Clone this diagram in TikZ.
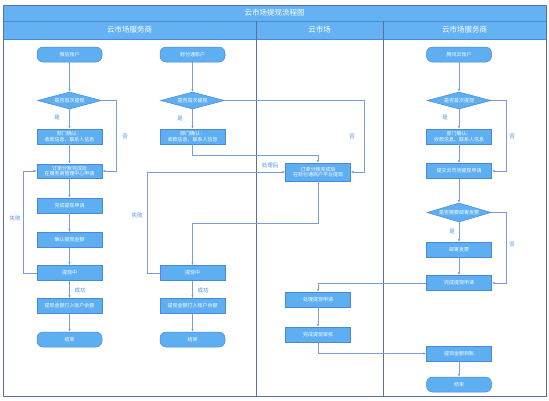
\documentclass[tikz,border=0pt]{standalone}
\usepackage{fontspec}
\setmainfont{Noto Sans CJK SC}
\usepackage{xcolor}
\usetikzlibrary{positioning,calc,shapes.geometric,arrows.meta}
\definecolor{flowLine}{HTML}{7B9CD6}
\definecolor{boxFill}{HTML}{5EAEF2}
\definecolor{boxLine}{HTML}{4A8AD4}
\definecolor{laneLine}{HTML}{5B6F9C}
\definecolor{headFill}{HTML}{64B2F4}
\definecolor{labelBlue}{HTML}{4A90E2}

\begin{document}
\begin{tikzpicture}[x=1pt,y=-1pt,
  procbox/.style={draw=boxLine, fill=boxFill, line width=0.5pt, text=white,
    font=\fontsize{5}{5.8}\selectfont, align=center, inner sep=1pt,
    minimum width=65pt, minimum height=15pt},
  startbox/.style={procbox, rounded corners=6pt},
  decision/.style={diamond, draw=boxLine, fill=boxFill, line width=0.5pt, text=white,
    font=\fontsize{5}{5.8}\selectfont, inner sep=0pt, aspect=3.7,
    minimum width=64pt, minimum height=17pt},
  flow/.style={draw=flowLine, line width=0.5pt, -{Latex[length=3pt,width=2.4pt]}},
  lbl/.style={font=\fontsize{5.5}{6}\selectfont, text=labelBlue, inner sep=1pt},
  headtxt/.style={font=\fontsize{7.5}{8}\selectfont, text=white}]

\useasboundingbox (0,0) rectangle (549,400);

\def\xA{69.5}   % left column
\def\xB{192.5}  % second column
\def\xM{318}    % cloud market lane
\def\xR{459}    % right lane

% --- FRAME, TITLE AND LANES ---
\fill[white] (3,5) rectangle (546,396);
\fill[headFill] (3,5) rectangle (546,39);
\draw[boxLine, line width=0.5pt] (3,21) -- (546,21);
\draw[boxLine, line width=0.5pt] (3,39) -- (546,39);
\draw[laneLine, line width=0.7pt] (256,21) -- (256,396);
\draw[laneLine, line width=0.7pt] (383,21) -- (383,396);
\draw[laneLine, line width=0.8pt] (3,5) rectangle (546,396);
\node[headtxt] (title) at (274.5,13) {云市场提现流程图};
\node[headtxt] (laneA) at (129.5,30) {云市场服务商};
\node[headtxt] (laneM) at (319.5,30) {云市场};
\node[headtxt] (laneR) at (464.5,30) {云市场服务商};

% --- LEFT COLUMN ---
\node[startbox] (aStart) at (\xA,54.5) {微信账户};
\node[decision] (aFirst) at (\xA,100.5) {是否首次提现};
\node[procbox] (aConfirm) at (\xA,136.5) {部门确认：\\收款信息、联系人信息};
\node[procbox, minimum height=14pt] (aOrder) at (\xA,171) {订单分账完成后\\在服务商管理中心申请};
\node[procbox] (aApply) at (\xA,205.5) {完成提现申请};
\node[procbox] (aCheck) at (\xA,240) {确认提现金额};
\node[procbox] (aDoing) at (\xA,273) {提现中};
\node[procbox] (aCredit) at (\xA,306) {提现金额打入账户余额};
\node[startbox] (aEnd) at (\xA,339.5) {结束};

\draw[flow] (aStart) -- (aFirst);
\draw[flow] (aFirst) -- (aConfirm);
\draw[flow] (aConfirm) -- (aOrder);
\draw[flow] (aFirst.east) -- (116,100.5) |- (aOrder.east);
\draw[flow] (aOrder) -- (aApply);
\draw[flow] (aApply) -- (aCheck);
\draw[flow] (aCheck) -- (aDoing);
\draw[flow] (aDoing) -- (aCredit);
\draw[flow] (aCredit) -- (aEnd);
\draw[flow] (aDoing.west) -- (23,273) |- (aOrder.west);
\node[lbl] (aYes) at (57,118) {是};
\node[lbl] (aNo) at (125,137) {否};
\node[lbl] (aFail) at (15,218) {失败};
\node[lbl] (aOk) at (80,290) {成功};

% --- SECOND COLUMN ---
\node[startbox] (bStart) at (\xB,54.5) {财付通账户};
\node[decision] (bFirst) at (\xB,100.5) {是否首次提现};
\node[procbox] (bConfirm) at (\xB,136.5) {部门确认：\\收款信息、联系人信息};
\node[procbox] (bDoing) at (\xB,273) {提现中};
\node[procbox] (bCredit) at (\xB,306) {提现金额打入账户余额};
\node[startbox] (bEnd) at (\xB,339.5) {结束};

% --- CLOUD MARKET LANE ---
\node[procbox, minimum height=18pt] (mOrder) at (\xM,172) {订单分账完成后\\在财付通商户平台提现};
\node[procbox] (mProc) at (\xM,299.5) {处理提现申请};
\node[procbox] (mAudit) at (\xM,334.5) {完成提现审核};

\draw[flow] (bStart) -- (bFirst);
\draw[flow] (bFirst) -- (bConfirm);
\draw[flow] (bConfirm.south) |- ($(mOrder.north)+(0,-8)$) -- (mOrder.north);
\draw[flow] (bFirst.east) -| ($(mOrder.east)+(13,0)$) -- (mOrder.east);
\draw[flow] (mOrder.south) -- ++(0,42) -| (bDoing.north);
\draw[flow] (bDoing.west) -- ++(-13,0) |- (mOrder.west);
\draw[flow] (bDoing) -- (bCredit);
\draw[flow] (bCredit) -- (bEnd);
\node[lbl] (bYes) at (180,119) {是};
\node[lbl] (bNo) at (352,137) {否};
\node[lbl] (bFail) at (137,215) {失败};
\node[lbl] (bDone) at (270,165) {处理后};
\node[lbl] (bOk) at (203,290) {成功};

% --- RIGHT LANE ---
\node[startbox] (rStart) at (\xR,54.5) {腾讯云账户};
\node[decision] (rFirst) at (\xR,100.5) {是否首次提现};
\node[procbox] (rConfirm) at (\xR,136.5) {部门确认：\\收款信息、联系人信息};
\node[procbox] (rApply) at (\xR,171) {提交云市场提现申请};
\node[decision, minimum height=19pt] (rInvoice) at (\xR,212.5) {是否需要邮寄发票};
\node[procbox] (rMail) at (\xR,249.5) {邮寄发票};
\node[procbox] (rDone) at (\xR,283) {完成提现申请};
\node[procbox] (rArrive) at (\xR,353.5) {提现金额到账};
\node[startbox] (rEnd) at (\xR,384.5) {结束};

\draw[flow] (rStart) -- (rFirst);
\draw[flow] (rFirst) -- (rConfirm);
\draw[flow] (rConfirm) -- (rApply);
\draw[flow] (rFirst.east) -| ($(rApply.east)+(14,0)$) -- (rApply.east);
\draw[flow] (rApply) -- (rInvoice);
\draw[flow] (rInvoice) -- (rMail);
\draw[flow] (rMail) -- (rDone);
\draw[flow] (rInvoice.east) -| ($(rDone.east)+(14,0)$) -- (rDone.east);
\draw[flow] (rDone.west) -| (mProc.north);
\draw[flow] (mProc) -- (mAudit);
\draw[flow] (mAudit.south) |- (rArrive.west);
\draw[flow] (rArrive) -- (rEnd);
\node[lbl] (rYes) at (445,118) {是};
\node[lbl] (rNo) at (512,137) {否};
\node[lbl] (rYes2) at (452,232) {是};
\node[lbl] (rNo2) at (512,245) {否};

\end{tikzpicture}
\end{document}
